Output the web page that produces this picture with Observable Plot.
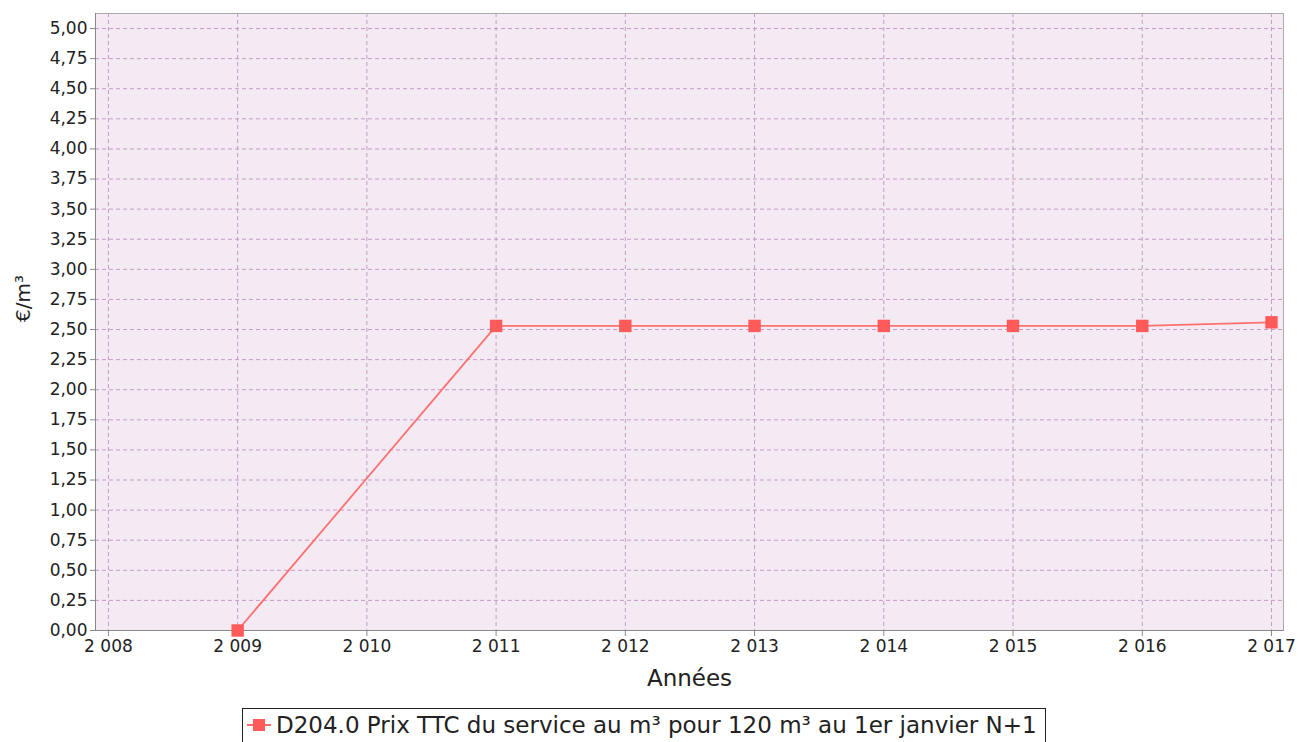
<!DOCTYPE html>
<html>
<head>
<meta charset="utf-8">
<script src="https://cdn.jsdelivr.net/npm/d3@7"></script>
<script src="https://cdn.jsdelivr.net/npm/@observablehq/plot@0.6"></script>
<style>
  html, body { margin: 0; padding: 0; background: #fff; font-family: "DejaVu Sans", sans-serif; }
  #chart { width: 1298px; }
  #chart svg { display: block; }
  #legend { margin-left: 242px; margin-top: 8px; display: inline-flex; align-items: center; border: 1px solid #222; padding: 3px 8px 8px 4px; font-size: 23px; color: #222; white-space: nowrap; background: #fff; }
  #legend svg { margin-right: 5px; display: inline-block; }
</style>
</head>
<body>
<div id="chart"></div>
<div id="legend"></div>
<script>
const years = [2009, 2011, 2012, 2013, 2014, 2015, 2016, 2017];
const prices = [0.00, 2.53, 2.53, 2.53, 2.53, 2.53, 2.53, 2.56];
const xTicks = [2008, 2009, 2010, 2011, 2012, 2013, 2014, 2015, 2016, 2017];
const yTicks = [0, 0.25, 0.5, 0.75, 1, 1.25, 1.5, 1.75, 2, 2.25, 2.5, 2.75, 3, 3.25, 3.5, 3.75, 4, 4.25, 4.5, 4.75, 5];
const seriesName = "D204.0 Prix TTC du service au m³ pour 120 m³ au 1er janvier N+1";

const data = years.map((y, i) => ({year: y, price: prices[i]}));
const fr = d3.formatLocale({decimal: ",", thousands: "\u00a0", grouping: [3], currency: ["", " €"]});
const fmtYear = fr.format(",d");
const fmtPrice = fr.format(",.2f");

const lineColor = "#ff5a5a";
const gridColor = "#c79ac7";

const plot = Plot.plot({
  width: 1298,
  height: 700,
  marginLeft: 95,
  marginRight: 15,
  marginTop: 13,
  marginBottom: 70,
  style: {fontFamily: "DejaVu Sans, sans-serif", fontSize: "17px", color: "#222", background: "#fff"},
  x: {domain: [2007.9, 2017.093], ticks: xTicks, tickFormat: fmtYear},
  y: {domain: [0, 5.125], ticks: yTicks, tickFormat: fmtPrice},
  marks: [
    Plot.frame({fill: "#f3eaf3", stroke: null}),
    Plot.gridX(xTicks, {stroke: gridColor, strokeOpacity: 1, strokeDasharray: "4,3"}),
    Plot.gridY(yTicks, {stroke: gridColor, strokeOpacity: 1, strokeDasharray: "4,3"}),
    Plot.frame({stroke: "#aaa", strokeWidth: 1}),
    Plot.ruleY([0], {stroke: "#888"}),
    Plot.ruleX([2007.9], {stroke: "#888"}),
    Plot.axisX(xTicks, {tickFormat: fmtYear, tickSize: 6, stroke: "#888", tickPadding: 3, fontSize: 17, label: null}),
    Plot.axisY(yTicks, {tickFormat: fmtPrice, tickSize: 5, stroke: "#888", tickPadding: 3, fontSize: 17, label: null}),
    Plot.text(["Années"], {frameAnchor: "bottom", dy: 48, fontSize: 23, fill: "#222", lineAnchor: "middle"}),
    Plot.text(["€/m³"], {frameAnchor: "left", dx: -72, rotate: -90, fontSize: 20, fill: "#222", lineAnchor: "middle"}),
    Plot.line(data, {x: "year", y: "price", stroke: "#ff7070", strokeWidth: 1.8}),
    Plot.dot(data, {x: "year", y: "price", symbol: "square", r: 7, fill: lineColor, stroke: null})
  ]
});

document.getElementById("chart").appendChild(plot);

const legend = document.getElementById("legend");
legend.innerHTML = `<svg width="24" height="16"><line x1="0" y1="8" x2="24" y2="8" stroke="${lineColor}" stroke-width="1.8"></line><rect x="6" y="2" width="12" height="12" fill="${lineColor}"></rect></svg><span></span>`;
legend.querySelector("span").textContent = seriesName;
</script>
</body>
</html>
